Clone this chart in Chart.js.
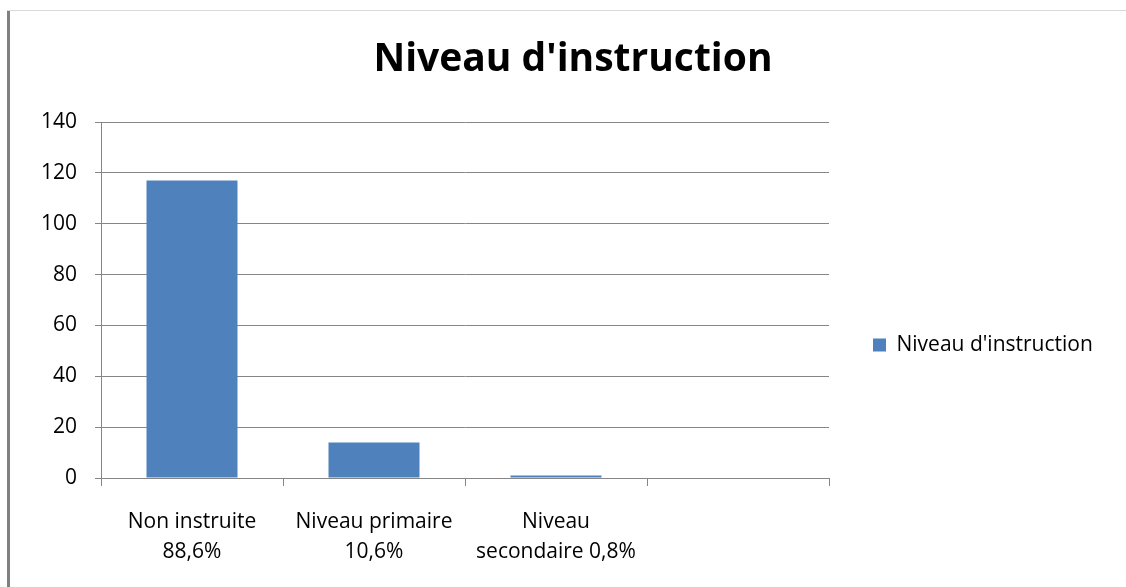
<!DOCTYPE html>
<html>
<head>
<meta charset="utf-8">
<script src="https://cdn.jsdelivr.net/npm/chart.js@4/dist/chart.umd.min.js"></script>
<style>
  html, body { margin: 0; padding: 0; background: #fff; }
  #wrap { position: relative; width: 1126px; height: 587px; }
  #frame-top { position: absolute; left: 7px; top: 10px; width: 1119px; height: 1px; background: #d9d9d9; }
  #frame-left { position: absolute; left: 7px; top: 11px; width: 3px; height: 576px; background: #808080; }
</style>
</head>
<body>
<div id="wrap">
  <canvas id="chart" width="1126" height="587"></canvas>
  <div id="frame-top"></div>
  <div id="frame-left"></div>
</div>
<script>
const categories = [
    ['Non instruite', '88,6%'],
    ['Niveau primaire', '10,6%'],
    ['Niveau', 'secondaire 0,8%'],
    ''
];
const counts = [117, 14, 1, null];
const seriesName = "Niveau d'instruction";
const yTicks = { min: 0, max: 140, step: 20 };

const axisGray = '#868686';
const font = '"Open Sans", "Liberation Sans", sans-serif';
const labelSize = 21;
const legendPad = 44;
const plotRight = 829;

const ctx = document.getElementById('chart').getContext('2d');

// size the right padding so the plot ends where the legend block begins
ctx.font = `${labelSize}px ${font}`;
const legendW = legendPad + 13 + labelSize / 2 + ctx.measureText(seriesName).width;
const padRight = Math.floor(1126 - plotRight - legendW) - 9;

// keep the title centred on the page, not on the padded area
const centreTitle = {
    id: 'centreTitle',
    afterLayout(chart) {
        chart.titleBlock.left = 0;
        chart.titleBlock.right = 1146;
    }
};

const chart = new Chart(ctx, {
    type: 'bar',
    data: {
        labels: categories,
        datasets: [
            { label: seriesName, data: counts, backgroundColor: '#4f81bd', borderWidth: 0,
              barPercentage: 0.5, categoryPercentage: 1 }
        ]
    },
    plugins: [centreTitle],
    options: {
        responsive: false, animation: false,
        layout: { padding: { left: 10, top: 10, right: padRight, bottom: 0 } },
        plugins: {
            title: {
                display: true, text: "Niveau d'instruction", color: '#000',
                font: { family: font, size: 39, weight: 'bold' },
                padding: { top: 26, bottom: 39.2 }
            },
            legend: {
                position: 'right', fullSize: false,
                title: { display: true, text: ' ', font: { size: 10 }, padding: { top: 0, bottom: 78 } },
                labels: { boxWidth: 13, boxHeight: 13, padding: legendPad, color: '#000',
                          font: { family: font, size: labelSize } }
            },
            tooltip: { enabled: false }
        },
        scales: {
            x: {
                grid: { drawOnChartArea: false, drawTicks: true, tickLength: 8, color: axisGray, offset: true },
                border: { display: true, color: axisGray },
                ticks: { color: '#000', font: { family: font, size: labelSize, lineHeight: 1.43 },
                         maxRotation: 0, autoSkip: false, padding: 21 },
                afterFit: (scale) => { scale.height = 109; }
            },
            y: {
                min: yTicks.min, max: yTicks.max,
                grid: { color: axisGray, tickLength: 6 },
                border: { display: true, color: axisGray },
                ticks: { stepSize: yTicks.step, color: '#000', font: { family: font, size: labelSize }, padding: 18 },
                afterFit: (scale) => { scale.width = 91; }
            }
        }
    }
});
</script>
</body>
</html>
